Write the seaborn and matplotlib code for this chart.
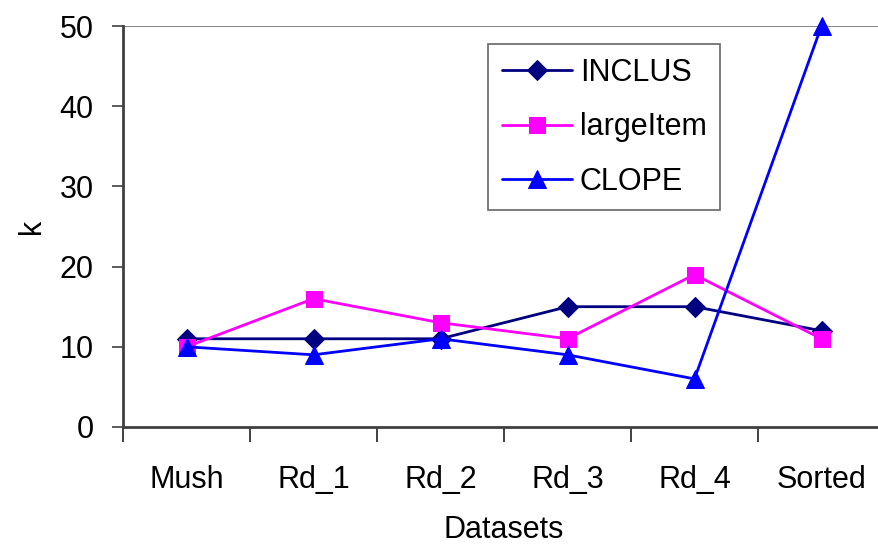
import matplotlib
matplotlib.use("Agg")
import matplotlib.pyplot as plt
import seaborn as sns
import pandas as pd
import numpy as np

datasets = ["Mush", "Rd_1", "Rd_2", "Rd_3", "Rd_4", "Sorted"]
inclus = [11, 11, 11, 15, 15, 12]
large_item = [10, 16, 13, 11, 19, 11]
clope = [10, 9, 11, 9, 6, 50]

series_names = ["INCLUS", "largeItem", "CLOPE"]
series_values = [inclus, large_item, clope]
colors = ["#000080", "#FF00FF", "#0000FF"]
markers = ["D", "s", "^"]
marker_sizes = [10.5, 11, 13]

sns.set_style("white")
plt.rcParams["font.family"] = ["Liberation Sans", "DejaVu Sans"]
plt.rcParams["text.color"] = "black"
plt.rcParams["axes.labelcolor"] = "black"
plt.rcParams["xtick.color"] = "black"
plt.rcParams["ytick.color"] = "black"

rows = []
for name, vals in zip(series_names, series_values):
    for i, v in enumerate(vals):
        rows.append({"pos": i, "k": v, "method": name})
df = pd.DataFrame(rows)

FS = 22

fig = plt.figure(figsize=(8.79, 5.5), dpi=100)
W, H = 879, 550
left, right, bottom, top = 123, 885, 427, 26
ax = fig.add_axes([left / W, 1 - bottom / H, (right - left) / W, (bottom - top) / H])

for name, c, m, ms in zip(series_names, colors, markers, marker_sizes):
    sub = df[df["method"] == name]
    sns.lineplot(data=sub, x="pos", y="k", ax=ax, color=c, marker=m,
                 markersize=ms, markeredgecolor=c, linewidth=2, label=name,
                 clip_on=False, zorder=3)

ax.set_xlim(-0.5, len(datasets) - 0.5)
ax.set_ylim(0, 50)

# category labels at centres, tick marks on category boundaries
ax.set_xticks(range(len(datasets)))
ax.set_xticklabels(datasets)
ax.set_xticks(np.arange(-0.5, len(datasets), 1.0), minor=True)
ax.tick_params(axis="x", which="major", length=0, pad=27, labelsize=FS)
ax.tick_params(axis="x", which="minor", length=11, width=1.2, color="#202020",
               direction="out", bottom=True)
ax.set_yticks(range(0, 51, 10))
ax.tick_params(axis="y", which="major", length=8, width=1.2, color="#404040",
               direction="out", left=True, labelsize=FS, pad=13)

for s in ["top", "right"]:
    ax.spines[s].set_visible(False)
for s in ["left", "bottom"]:
    ax.spines[s].set_color("#404040")
    ax.spines[s].set_linewidth(2)

ax.axhline(50, color="#707070", linewidth=1.2, zorder=1)

ax.set_xlabel("Datasets", fontsize=FS, labelpad=15)
ax.set_ylabel("k", fontsize=FS, labelpad=9)

leg = ax.legend(loc="upper left",
                bbox_to_anchor=((488 - left) / (right - left), (bottom - 44) / (bottom - top)),
                fontsize=FS, frameon=True, fancybox=False, handlelength=2.3,
                labelspacing=0.8, borderpad=0.45, handletextpad=0.25,
                borderaxespad=0)
leg.get_frame().set_edgecolor("#404040")
leg.get_frame().set_linewidth(1.2)

fig.savefig("out.png", dpi=100)
